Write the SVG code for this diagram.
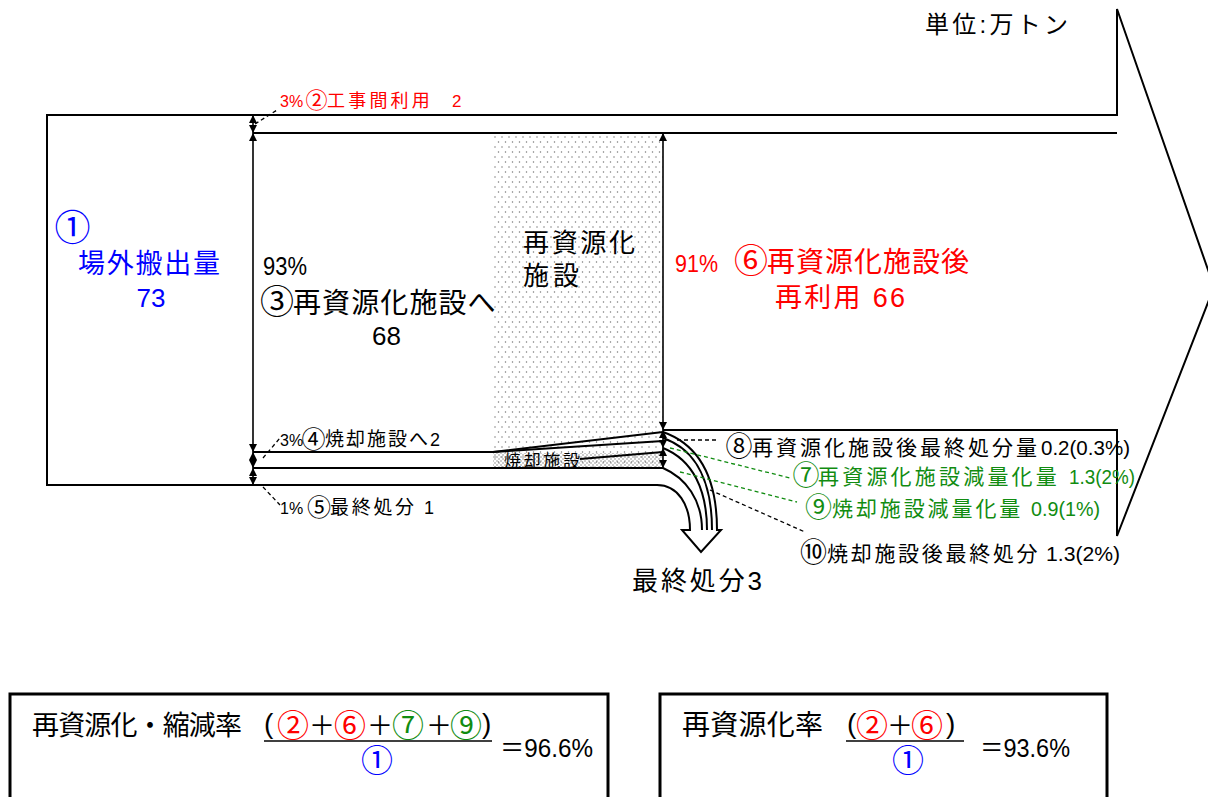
<svg xmlns="http://www.w3.org/2000/svg" width="1208" height="797" viewBox="0 0 1208 797">
<style>
text{font-family:"Liberation Sans","Noto Sans CJK JP",sans-serif;fill:#000}
.cj{font-family:"Noto Sans CJK JP",sans-serif}
.r{fill:#ff0000}
.b{fill:#0000ff}
.g{fill:#118c11}
.k{fill:#000}
.ln{fill:none;stroke:#000;stroke-width:2}
.dim{fill:none;stroke:#000;stroke-width:1.6;marker-start:url(#ah);marker-end:url(#ah)}
.ldk{fill:none;stroke:#000;stroke-width:1.3;stroke-dasharray:4,3}
.ldg{fill:none;stroke:#118c11;stroke-width:1.3;stroke-dasharray:4,3}
.box{fill:#fff;stroke:#000;stroke-width:3}
</style>
<defs>
<marker id="ah" viewBox="0 0 10 10" refX="10" refY="5" markerWidth="8" markerHeight="11" markerUnits="userSpaceOnUse" orient="auto-start-reverse">
<path d="M0,0 L10,5 L0,10 z" fill="#000"/>
</marker>
<pattern id="dots" width="7" height="10" patternUnits="userSpaceOnUse">
<circle cx="1.5" cy="2" r="0.75" fill="#777"/>
<circle cx="5" cy="7" r="0.75" fill="#777"/>
</pattern>
<pattern id="dots2" width="4" height="4" patternUnits="userSpaceOnUse">
<circle cx="1" cy="1" r="0.7" fill="#777"/>
<circle cx="3" cy="3" r="0.7" fill="#777"/>
</pattern>
</defs>
<rect width="1208" height="797" fill="#fff"/>

<g id="facility">
<rect x="493" y="133" width="170" height="335" fill="url(#dots)"/>
<rect x="493" y="453" width="170" height="15" fill="url(#dots2)"/>
</g>

<g id="connectors">
<path class="ln" d="M253,485 L47,485 L47,115 L1117,115 L1117,9 L1214,287 L1117,536 L1117,430 L663,430"/>
<path class="ln" d="M253,133 L1117,133"/>
<path class="ln" d="M253,452 L493,452 L663,432"/>
<path class="ln" d="M493,452 L663,441"/>
<path class="ln" d="M580,459 L663,452"/>
<path class="ln" d="M253,468 L663,468"/>
<path class="ln" fill="#fff" d="M253,485 L657,485 C678,485 690,505 690,530 L682,530 L701,552 L721,530 L717,530 C717,480 700,445 663,432"/>
<path class="ln" d="M663,438 C698,450 712,485 712,530"/>
<path class="ln" d="M663,448 C693,460 707,490 707,530"/>
<path class="ln" d="M663,468 C686,478 702,500 702,530"/>
<path class="dim" d="M253,115 L253,133"/>
<path class="dim" d="M253,133 L253,452"/>
<path class="dim" d="M253,452 L253,468"/>
<path class="dim" d="M253,468 L253,485"/>
<path class="dim" d="M663,133 L663,430"/>
<path class="dim" d="M663,430 L663,448"/>
<path class="dim" d="M663,448 L663,468"/>
<path class="ldk" d="M255,124 L277,110"/>
<path class="ldk" d="M263,458 L280,438"/>
<path class="ldk" d="M263,487 L280,505"/>
<path class="ldk" d="M677,440 L717,440"/>
<path class="ldg" d="M670,448 L790,478"/>
<path class="ldg" d="M680,472 L797,502"/>
<path class="ldk" d="M710,490 L805,532"/>
</g>

<g id="unit"><text x="925" y="33" font-size="24" textLength="143">単位:万トン</text></g>

<g id="n1">
<text class="cj b" x="54.5" y="241" font-size="36">①</text>
<text class="b" x="78" y="273" font-size="27" textLength="142">場外搬出量</text>
<text class="b" x="151" y="307" font-size="26" text-anchor="middle">73</text>
</g>

<g id="n2">
<text class="r" font-size="18"><tspan x="280" y="107" font-size="16">3%</tspan><tspan x="305.5" y="108" font-size="22">②</tspan><tspan x="327" y="107" letter-spacing="3.2">工事間利用</tspan><tspan x="452" y="107" font-size="17">2</tspan></text>
</g>

<g id="n3">
<text x="263" y="275" font-size="25" textLength="44" lengthAdjust="spacingAndGlyphs">93%</text>
<text font-size="28"><tspan x="260" y="314" font-size="34">③</tspan><tspan x="293" y="313" letter-spacing="1.1">再資源化施設へ</tspan></text>
<text x="372" y="345" font-size="26">68</text>
</g>

<g id="recycle">
<text x="523" y="252" font-size="26" textLength="112">再資源化</text>
<text x="523" y="285" font-size="26" textLength="56">施設</text>
</g>

<g id="n6">
<text class="r" x="675" y="272" font-size="24" textLength="43" lengthAdjust="spacingAndGlyphs">91%</text>
<text class="r" font-size="28"><tspan x="734" y="273" font-size="34">⑥</tspan><tspan x="767" y="272" letter-spacing="1">再資源化施設後</tspan></text>
<text class="r" x="775" y="307" font-size="27" textLength="130">再利用  66</text>
</g>

<g id="n4">
<text font-size="19"><tspan x="280" y="446" font-size="16">3%</tspan><tspan x="301.5" y="447.5" font-size="24">④</tspan><tspan x="325" y="446" letter-spacing="2">焼却施設へ</tspan><tspan x="430" y="446" font-size="18">2</tspan></text>
</g>
<g id="n5">
<text font-size="19"><tspan x="280" y="514" font-size="16">1%</tspan><tspan x="307" y="515.5" font-size="24">⑤</tspan><tspan x="330" y="514" letter-spacing="2.7">最終処分</tspan><tspan x="424" y="514" font-size="18">1</tspan></text>
</g>
<g id="incinerator"><text x="504" y="467" font-size="17" textLength="76">焼却施設</text></g>

<g id="n8">
<text font-size="21"><tspan x="725.5" y="455.5" font-size="27">⑧</tspan><tspan x="752" y="455" letter-spacing="3">再資源化施設後最終処分量</tspan></text>
<text x="1041" y="455" font-size="21" textLength="89" lengthAdjust="spacingAndGlyphs">0.2(0.3%)</text>
</g>
<g id="n7">
<text class="g" font-size="21"><tspan x="792.5" y="484.5" font-size="27">⑦</tspan><tspan x="818" y="484" letter-spacing="3.2">再資源化施設減量化量</tspan></text>
<text class="g" x="1069" y="484" font-size="21" textLength="66" lengthAdjust="spacingAndGlyphs">1.3(2%)</text>
</g>
<g id="n9">
<text class="g" font-size="21"><tspan x="805" y="516.5" font-size="27">⑨</tspan><tspan x="832" y="516" letter-spacing="2.9">焼却施設減量化量</tspan></text>
<text class="g" x="1031" y="516" font-size="21" textLength="69" lengthAdjust="spacingAndGlyphs">0.9(1%)</text>
</g>
<g id="n10">
<text font-size="21"><tspan x="800" y="561.5" font-size="27">⑩</tspan><tspan x="827" y="561" letter-spacing="2.7">焼却施設後最終処分</tspan></text>
<text x="1046" y="561" font-size="21" textLength="74" lengthAdjust="spacingAndGlyphs">1.3(2%)</text>
</g>
<g id="final"><text x="632" y="590" font-size="26" textLength="130">最終処分3</text></g>

<g id="formula1">
<rect class="box" x="10" y="694" width="598" height="112"/>
<text x="32" y="735" font-size="27" textLength="210">再資源化・縮減率</text>
<line x1="264" y1="741" x2="492" y2="741" stroke="#000" stroke-width="1.5"/>
<text font-size="28"><tspan x="264" y="733">(</tspan><tspan class="r" x="277" y="737" font-size="32">②</tspan><tspan x="309" y="735" font-size="26">＋</tspan><tspan class="r" x="334" y="737" font-size="32">⑥</tspan><tspan x="367" y="735" font-size="26">＋</tspan><tspan class="g" x="392" y="737" font-size="32">⑦</tspan><tspan x="426" y="735" font-size="26">＋</tspan><tspan class="g" x="450" y="737" font-size="32">⑨</tspan><tspan x="482" y="733">)</tspan><tspan class="b" x="361" y="772" font-size="32">①</tspan></text>
<text x="500" y="757" font-size="26" textLength="93" lengthAdjust="spacingAndGlyphs">＝96.6%</text>
</g>

<g id="formula2">
<rect class="box" x="660" y="694" width="447" height="112"/>
<text x="682" y="735" font-size="28" textLength="141">再資源化率</text>
<line x1="846" y1="741" x2="964" y2="741" stroke="#000" stroke-width="1.5"/>
<text font-size="28"><tspan x="847" y="733">(</tspan><tspan class="r" x="856" y="737" font-size="32">②</tspan><tspan x="887" y="735" font-size="26">＋</tspan><tspan class="r" x="911" y="737" font-size="32">⑥</tspan><tspan x="946" y="733">)</tspan><tspan class="b" x="892" y="772" font-size="32">①</tspan></text>
<text x="980" y="757" font-size="26" textLength="90" lengthAdjust="spacingAndGlyphs">＝93.6%</text>
</g>
</svg>
